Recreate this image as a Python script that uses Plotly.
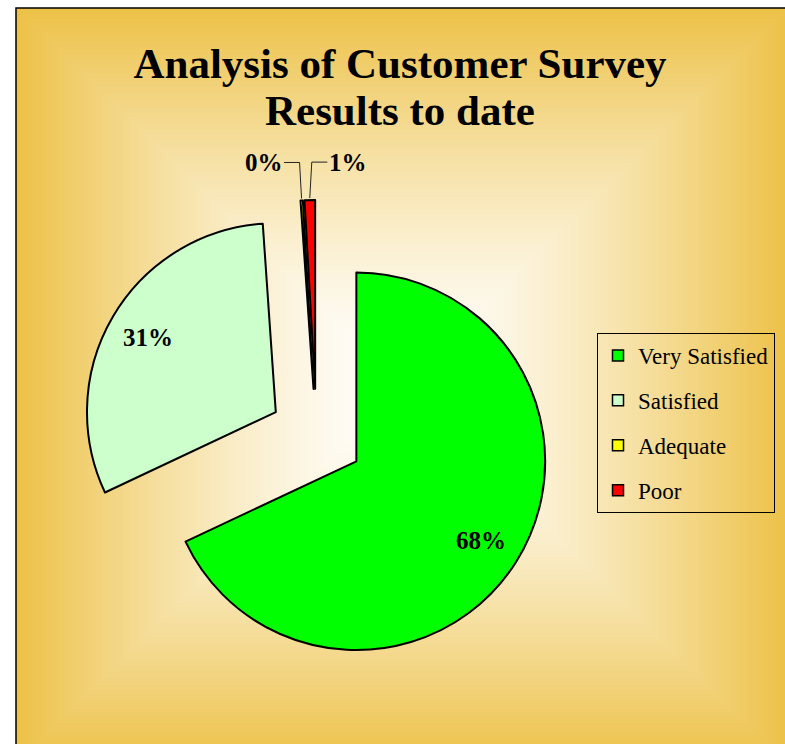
import base64
import math
import struct
import zlib

import numpy as np
import plotly.graph_objects as go

# ---------------- data ----------------
categories = ["Very Satisfied", "Satisfied", "Adequate", "Poor"]
values = [68.0, 30.9, 0.2, 0.9]
colors = ["#00FF00", "#CCFFCC", "#FFFF00", "#FF0000"]
title_line1 = "Analysis of Customer Survey"
title_line2 = "Results to date"

W, H = 785, 744
SERIF = "Liberation Serif"


# ---------------- background: rectangular "from centre" gradient ----------------
def png_data_uri(arr):
    h, w, _ = arr.shape
    raw = b"".join(b"\x00" + arr[y].tobytes() for y in range(h))

    def chunk(tag, data):
        c = struct.pack(">I", len(data)) + tag + data
        return c + struct.pack(">I", zlib.crc32(tag + data) & 0xFFFFFFFF)

    png = (b"\x89PNG\r\n\x1a\n"
           + chunk(b"IHDR", struct.pack(">IIBBBBB", w, h, 8, 2, 0, 0, 0))
           + chunk(b"IDAT", zlib.compress(raw, 9))
           + chunk(b"IEND", b""))
    return "data:image/png;base64," + base64.b64encode(png).decode()


x0, y0 = 16, 8                      # chart-area top-left corner (px)
bw, bh = W - x0, H - y0
cx, cy, hw, hh = 402.0, 386.0, 386.0, 378.0
xs = np.arange(x0, W) + 0.5
ys = np.arange(y0, H) + 0.5
X, Y = np.meshgrid(xs, ys)
t = np.maximum(np.abs(X - cx) / hw, np.abs(Y - cy) / hh).clip(0, 1)
t = t ** 1.4
inner = np.array([255, 255, 255], float)
outer = np.array([237, 193, 70], float)
img = (inner[None, None, :] * (1 - t[..., None]) + outer[None, None, :] * t[..., None])
bg_uri = png_data_uri(img.round().astype(np.uint8))

# ---------------- pie geometry (same rules plotly uses) ----------------
PULL = 0.25
dom_x = [80 / W, 553 / W]
dom_y = [1 - 672 / H, 1 - 200 / H]
dw, dh = (dom_x[1] - dom_x[0]) * W, (dom_y[1] - dom_y[0]) * H
R = min(dw, dh) / (2 + 2 * PULL)
pcx = W * (dom_x[0] + dom_x[1]) / 2
pcy = H * (1 - (dom_y[0] + dom_y[1]) / 2)

total = sum(values)
annotations = []
leader_shapes = []
cum = 0.0
for i, v in enumerate(values):
    frac = v / total
    mid = (cum + frac / 2) * 2 * math.pi
    cum += frac
    ux, uy = math.sin(mid), -math.cos(mid)
    label = f"{round(100 * frac):.0f}%"
    font = dict(family=SERIF, size=25, color="black", weight="bold")
    if frac > 0.05:
        rr = PULL * R + 0.785 * R
        px_, py_ = pcx + rr * ux, pcy + rr * uy
        annotations.append(dict(text=label, x=px_ / W, y=1 - py_ / H,
                                xref="paper", yref="paper", showarrow=False,
                                xanchor="center", yanchor="middle", font=font))
    else:
        # outer tip of the exploded sliver, then an elbow leader line to the label
        rr = (PULL + 1) * R + 2
        px_, py_ = pcx + rr * ux, pcy + rr * uy
        side = -1 if categories[i] == "Adequate" else 1
        ex, ey = px_ + 2 * side, py_ - 36
        leader_shapes.append(dict(type="line", xref="paper", yref="paper",
                                  x0=px_ / W, y0=1 - py_ / H, x1=ex / W, y1=1 - ey / H,
                                  line=dict(color="#222", width=1), layer="above"))
        annotations.append(dict(text=label, x=ex / W, y=1 - ey / H,
                                xref="paper", yref="paper", showarrow=True,
                                ax=36 * side, ay=0, arrowhead=0, arrowwidth=1,
                                arrowcolor="#222", standoff=0, font=font))

annotations.append(dict(text=title_line2, x=400 / W, y=1 - 111 / H,
                        xref="paper", yref="paper", showarrow=False,
                        xanchor="center", yanchor="middle",
                        font=dict(family=SERIF, size=43, color="black", weight="bold")))

# ---------------- figure ----------------
fig = go.Figure()

fig.add_trace(go.Pie(
    labels=categories,
    values=values,
    sort=False,
    direction="clockwise",
    rotation=0,
    pull=[PULL] * len(values),
    marker=dict(colors=colors, line=dict(color="black", width=2)),
    textinfo="none",
    domain=dict(x=dom_x, y=dom_y),
    showlegend=False,
    hoverinfo="label+percent",
))

# legend entries (one group per category so the entries are spaced like the original)
for name, col in zip(categories, colors):
    fig.add_trace(go.Scatter(
        x=[None], y=[None], mode="markers", name=name, legendgroup=name,
        marker=dict(symbol="square", size=11, color=col,
                    line=dict(color="black", width=1.5)),
        hoverinfo="skip",
    ))

fig.update_layout(
    width=W, height=H,
    margin=dict(l=0, r=0, t=0, b=0, autoexpand=False),
    paper_bgcolor="white",
    plot_bgcolor="rgba(0,0,0,0)",
    xaxis=dict(visible=False),
    yaxis=dict(visible=False),
    title=dict(
        text=title_line1,
        x=400 / W, xanchor="center",
        y=1 - 63 / H, yanchor="middle", yref="container",
        font=dict(family=SERIF, size=43, color="black", weight="bold"),
    ),
    annotations=annotations,
    legend=dict(
        x=597 / W, xanchor="left",
        y=1 - 333 / H, yanchor="top",
        bgcolor="rgba(0,0,0,0)",
        bordercolor="black", borderwidth=1,
        font=dict(family=SERIF, size=23, color="black"),
        tracegroupgap=12,
        itemclick=False, itemdoubleclick=False,
    ),
    images=[dict(
        source=bg_uri, xref="paper", yref="paper",
        x=x0 / W, y=1 - y0 / H, sizex=bw / W, sizey=bh / H,
        xanchor="left", yanchor="top", sizing="stretch", layer="below",
    )],
    shapes=[dict(
        type="rect", xref="paper", yref="paper",
        x0=x0 / W, y0=-0.01, x1=1.01, y1=1 - y0 / H,
        line=dict(color="black", width=1.5), fillcolor="rgba(0,0,0,0)",
        layer="above",
    )] + leader_shapes,
)

fig.write_html(
    "out.html",
    config={"displayModeBar": False},
    post_script="document.body.style.margin='0';document.body.style.overflow='hidden';",
)
